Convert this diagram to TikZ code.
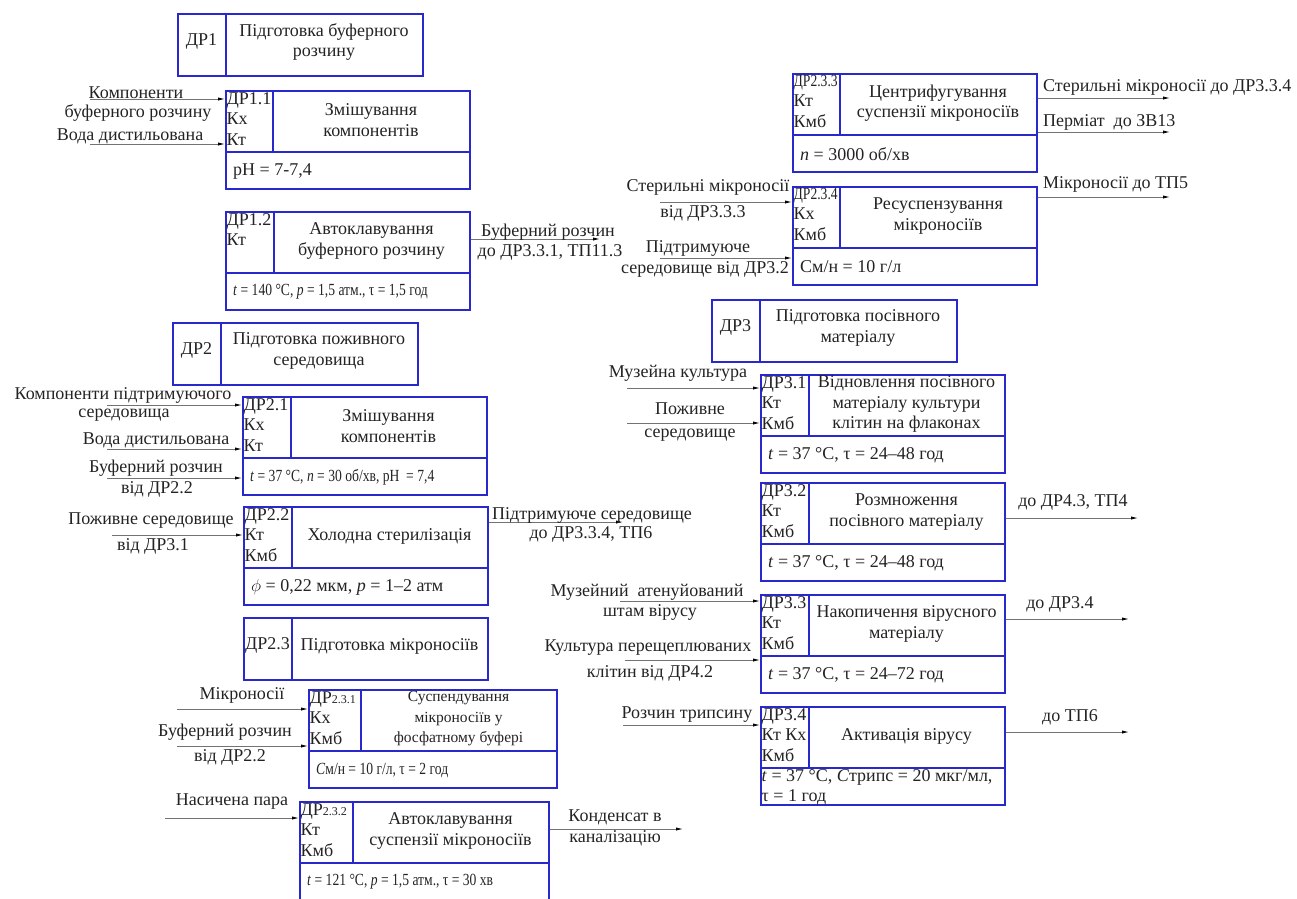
\documentclass[tikz,border=0pt]{standalone}
\usepackage{fontspec}
\setmainfont{Liberation Serif}
\usepackage{graphicx}
\usetikzlibrary{arrows.meta,positioning}

\definecolor{boxblue}{RGB}{40,40,205}
\definecolor{flowgray}{RGB}{115,115,115}
\definecolor{inkgray}{RGB}{35,35,35}

\tikzset{
  blk/.style={draw=boxblue, line width=1.5pt},
  flow/.style={draw=flowgray, line width=0.8pt, -{Latex[length=7pt,width=3.2pt,color=black]}},
  txt/.style={inner sep=0pt, align=center, text=inkgray},
  codes/.style={inner sep=0pt, align=left, text=inkgray, anchor=north west},
  parm/.style={inner sep=0pt, text=inkgray, anchor=west},
}

\newcommand{\nrw}[1]{\scalebox{0.8}[1]{\fontsize{17}{19}\selectfont #1}}
\newcommand{\smf}{\fontsize{15.5}{18.5}\selectfont}

% category box: name, x, y, width, code, title
\newcommand{\catbox}[6]{%
  \node[blk, anchor=north west, minimum width=#4pt, minimum height=62pt] (#1) at (#2,#3) {};
  \draw[blk] (#2+49,#3) -- (#2+49,#3+62);
  \node[txt] (#1c) at (#2+24.5,#3+28) {#5};
  \node[txt] (#1t) at ({#2+(49+#4)/2},#3+29) {#6};
}

% process box: name, x, y, width, divider, codes, title, parameters
\newcommand{\procbox}[8]{%
  \node[blk, anchor=north west, minimum width=#4pt, minimum height=98pt] (#1) at (#2,#3) {};
  \draw[blk] (#2+#5,#3) -- (#2+#5,#3+62) (#2,#3+62) -- (#2+#4,#3+62);
  \node[codes] (#1c) at (#2+1.5,#3+2) {#6};
  \node[txt] (#1t) at ({#2+(#5+#4)/2},#3+30) {#7};
  \node[parm] (#1p) at (#2+8,#3+81) {#8};
}

\begin{document}
\begin{tikzpicture}[x=1pt, y=-1pt, font=\fontsize{18}{20.5}\selectfont]
\useasboundingbox (0,0) rectangle (1297,898);

% left column
\catbox{d1}{177}{13}{245}{ДР1}{Підготовка буферного\\розчину}
\procbox{d11}{225}{90}{244}{48}{ДР1.1\\Кх\\Кт}{Змішування\\компонентів}{pH = 7-7,4}
\procbox{d12}{225}{211}{244}{49}{ДР1.2\\Кт}{Автоклавування\\буферного розчину}%
  {\nrw{\textit{t} = 140 °C, \textit{p} = 1,5 атм., τ = 1,5 год}}
\catbox{d2}{172}{322}{245}{ДР2}{Підготовка поживного\\середовища}
\procbox{d21}{242}{396}{244}{49}{ДР2.1\\Кх\\Кт}{Змішування\\компонентів}%
  {\nrw{\textit{t} = 37 °C, \textit{n} = 30 об/хв, pH~ = 7,4}}
\procbox{d22}{243}{506}{244}{49}{ДР2.2\\Кт\\Кмб}{Холодна стерилізація}%
  {$\phi$ = 0,22 мкм, \textit{p} = 1–2 атм}
\catbox{d23}{243}{617}{244}{ДР2.3}{Підготовка мікроносіїв}
\procbox{d231}{308}{689}{248}{53}{ДР{\fontsize{12}{14}\selectfont 2.3.1}\\Кх\\Кмб}%
  {\smf Суспендування\\\smf мікроносіїв у\\\smf фосфатному буфері}%
  {\nrw{\textit{C}м/н = 10 г/л, τ = 2 год}}
\procbox{d232}{299}{801}{249}{54}{ДР{\fontsize{12}{14}\selectfont 2.3.2}\\Кт\\Кмб}%
  {Автоклавування\\суспензії мікроносіїв}%
  {\nrw{\textit{t} = 121 °C, \textit{p} = 1,5 атм., τ = 30 хв}}

% right column
\procbox{d233}{792}{73}{244}{48}{\fontsize{16}{19}\selectfont\nrw{ДР2.3.3}\\Кт\\Кмб}%
  {Центрифугування\\суспензії мікроносіїв}{\textit{n} = 3000 об/хв}
\procbox{d234}{792}{186}{244}{48}{\fontsize{16}{19}\selectfont\nrw{ДР2.3.4}\\Кх\\Кмб}%
  {Ресуспензування\\мікроносіїв}{См/н = 10 г/л}
\catbox{d3}{711}{299}{245}{ДР3}{Підготовка посівного\\матеріалу}
\procbox{d31}{760}{374}{244}{49}{ДР3.1\\Кт\\Кмб}%
  {Відновлення посівного\\матеріалу культури\\клітин на флаконах}%
  {\textit{t} = 37 °C, τ = 24–48 год}
\procbox{d32}{760}{482}{244}{49}{ДР3.2\\Кт\\Кмб}{Розмноження\\посівного матеріалу}%
  {\textit{t} = 37 °C, τ = 24–48 год}
\procbox{d33}{760}{594}{244}{49}{ДР3.3\\Кт\\Кмб}{Накопичення вірусного\\матеріалу}%
  {\textit{t} = 37 °C, τ = 24–72 год}
\procbox{d34}{760}{706}{244}{49}{ДР3.4\\Кт Кх\\Кмб}{Активація вірусу}{}
\node[codes] (d34q) at (761.5,769) {\textit{t} = 37 °C, \textit{C}трипс = 20 мкг/мл,\\τ = 1 год};

% inputs
\coordinate (a11) at (90,99);
\coordinate (b11) at (90,144);
\draw[flow] (a11) -- (a11 -| d11.west);
\draw[flow] (b11) -- (b11 -| d11.west);
\node[txt] (l11a) at (136,93) {Компоненти};
\node[txt] (l11b) at (138,113) {буферного розчину};
\node[txt] (l11c) at (130,136) {Вода дистильована};

\coordinate (a21) at (107,405);
\coordinate (b21) at (107,449);
\coordinate (c21) at (107,478);
\draw[flow] (a21) -- (a21 -| d21.west);
\draw[flow] (b21) -- (b21 -| d21.west);
\draw[flow] (c21) -- (c21 -| d21.west);
\node[txt] (l21a) at (123,395) {Компоненти підтримуючого};
\node[txt] (l21b) at (124,415) {середовища};
\node[txt] (l21c) at (156,440) {Вода дистильована};
\node[txt] (l21d) at (156,468) {Буферний розчин};
\node[txt] (l21e) at (157,489) {від ДР2.2};

\coordinate (a22) at (112,535);
\draw[flow] (a22) -- (a22 -| d22.west);
\node[txt] (l22a) at (151,521) {Поживне середовище};
\node[txt] (l22b) at (153,546) {від ДР3.1};

\coordinate (a231) at (177,709);
\coordinate (b231) at (177,746);
\draw[flow] (a231) -- (a231 -| d231.west);
\draw[flow] (b231) -- (b231 -| d231.west);
\node[txt] (l231a) at (242,695) {Мікроносії};
\node[txt] (l231b) at (225,732) {Буферний розчин};
\node[txt] (l231c) at (230,757) {від ДР2.2};

\coordinate (a232) at (165,818);
\draw[flow] (a232) -- (a232 -| d232.west);
\node[txt] (l232a) at (232,802) {Насичена пара};

\coordinate (a234) at (660,202);
\coordinate (b234) at (660,258);
\draw[flow] (a234) -- (a234 -| d234.west);
\draw[flow] (b234) -- (b234 -| d234.west);
\node[txt] (l234a) at (708,187) {Стерильні мікроносії};
\node[txt] (l234b) at (703,213) {від ДР3.3.3};
\node[txt] (l234c) at (698,248) {Підтримуюче};
\node[txt] (l234d) at (705,269) {середовище від ДР3.2};

\coordinate (a31) at (627,388);
\coordinate (b31) at (627,423);
\draw[flow] (a31) -- (a31 -| d31.west);
\draw[flow] (b31) -- (b31 -| d31.west);
\node[txt] (l31a) at (678,373) {Музейна культура};
\node[txt] (l31b) at (690,409) {Поживне};
\node[txt] (l31c) at (690,435) {середовище};

\coordinate (a33) at (620,601);
\coordinate (b33) at (625,660);
\draw[flow] (a33) -- (a33 -| d33.west);
\draw[flow] (b33) -- (b33 -| d33.west);
\node[txt] (l33a) at (647,592) {Музейний\ \ атенуйований};
\node[txt] (l33b) at (650,612) {штам вірусу};
\node[txt] (l33c) at (648,648) {Культура перещеплюваних};
\node[txt] (l33d) at (650,673) {клітин від ДР4.2};

\coordinate (a34) at (623,725);
\draw[flow] (a34) -- (a34 -| d34.west);
\node[txt] (l34a) at (687,715) {Розчин трипсину};

% outputs
\coordinate (o12) at (600,239);
\draw[flow] (o12 -| d12.east) -- (o12);
\node[txt] (m12a) at (548,232) {Буферний розчин};
\node[txt] (m12b) at (550,252) {до ДР3.3.1, ТП11.3};

\coordinate (o22) at (623,522);
\draw[flow] (o22 -| d22.east) -- (o22);
\node[txt] (m22a) at (592,515) {Підтримуюче середовище};
\node[txt] (m22b) at (591,534) {до ДР3.3.4, ТП6};

\coordinate (o232) at (683,829);
\draw[flow] (o232 -| d232.east) -- (o232);
\node[txt] (m232a) at (615,817) {Конденсат в};
\node[txt] (m232b) at (615,838) {каналізацію};

\coordinate (o233) at (1170,98);
\coordinate (p233) at (1170,132);
\draw[flow] (o233 -| d233.east) -- (o233);
\draw[flow] (p233 -| d233.east) -- (p233);
\node[parm] (m233a) at (1043,87) {Стерильні мікроносії до ДР3.3.4};
\node[parm] (m233b) at (1043,122) {Перміат\ \ до ЗВ13};

\coordinate (o234) at (1170,197);
\draw[flow] (o234 -| d234.east) -- (o234);
\node[parm] (m234a) at (1043,184) {Мікроносії до ТП5};

\coordinate (o32) at (1138,518);
\draw[flow] (o32 -| d32.east) -- (o32);
\node[txt] (m32a) at (1073,502) {до ДР4.3, ТП4};

\coordinate (o33) at (1129,619);
\draw[flow] (o33 -| d33.east) -- (o33);
\node[txt] (m33a) at (1060,604) {до ДР3.4};

\coordinate (o34) at (1129,732);
\draw[flow] (o34 -| d34.east) -- (o34);
\node[txt] (m34a) at (1070,717) {до ТП6};
\end{tikzpicture}
\end{document}
